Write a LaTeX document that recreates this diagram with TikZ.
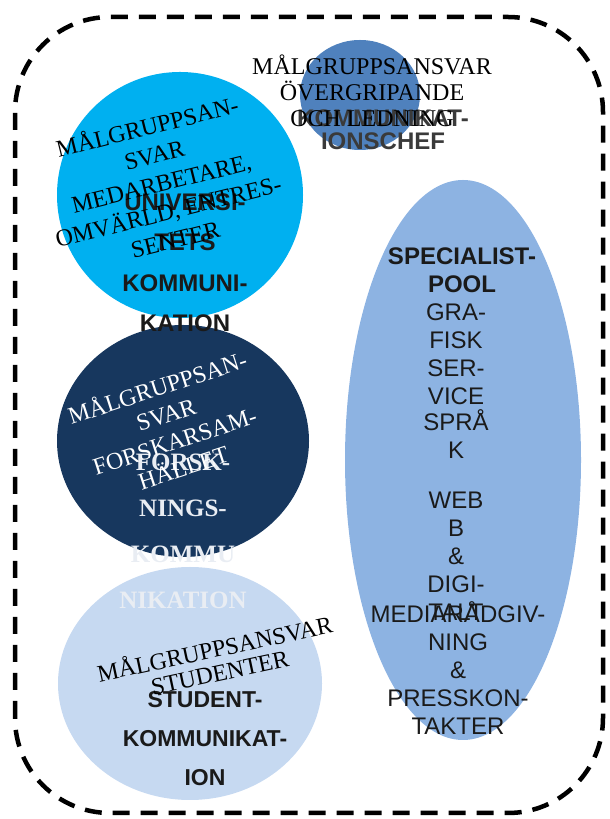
\documentclass[tikz,border=0pt]{standalone}
\usepackage{fontspec}
\setmainfont{Liberation Serif}
\newfontfamily\sansf{Liberation Sans}
\usetikzlibrary{shapes.geometric}
\definecolor{chefblue}{HTML}{4F81BD}
\definecolor{univcyan}{HTML}{00B0F0}
\definecolor{navy}{HTML}{17375E}
\definecolor{studblue}{HTML}{C6D9F1}
\definecolor{specblue}{HTML}{8DB3E2}
\definecolor{darktext}{HTML}{1A1A1A}
\definecolor{chefsub}{HTML}{3A3A3A}
\definecolor{lighttext}{HTML}{E9EDF3}
\begin{document}
\begin{tikzpicture}[x=1pt,y=1pt,
  blob/.style={draw=none, ellipse, inner sep=0pt},
  tag/.style={font=\fontsize{24}{28}\selectfont, align=center, inner sep=0pt},
  head/.style={font=\sansf\bfseries\fontsize{24}{40.5}\selectfont, align=center, inner sep=0pt, text=darktext},
  spec/.style={font=\sansf\fontsize{24}{28}\selectfont, align=center, inner sep=0pt, text=darktext},
  border/.style={line width=4.5pt, dash pattern=on 17pt off 11pt, rounded corners=95pt}
  ]
\useasboundingbox (0,0) rectangle (610,819);
% frame
\draw[border] (15,6) rectangle (603,802);
% shapes
\node[blob, fill=univcyan, minimum width=246pt, minimum height=246pt] (univ) at (180,624) {};
\node[blob, fill=navy, minimum width=252pt, minimum height=232pt] (forsk) at (183,378) {};
\node[blob, fill=studblue, minimum width=264pt, minimum height=233pt] (stud) at (190,135.5) {};
\node[blob, fill=chefblue, minimum width=120pt, minimum height=110pt] (chef) at (360,724) {};
\node[blob, fill=specblue, minimum width=236pt, minimum height=560pt] (pool) at (463,359) {};
% chef texts
\node[head, text=chefsub, font=\sansf\bfseries\fontsize{24}{23}\selectfont] (cheflbl) at (383,689.5) {KOMMUNIKAT-\\IONSCHEF};
\node[tag, font=\fontsize{24}{26}\selectfont] (chettag) at (372,728) {MÅLGRUPPSANSVAR\\ÖVERGRIPANDE\\OCH LEDNING};
% university
\node[head] (univlbl) at (185,556.5) {UNIVERSI-\\TETS\\KOMMUNI-\\KATION};
\node[tag, rotate=14, font=\fontsize{24}{29}\selectfont] (univtag) at (161,637) {MÅLGRUPPSAN-\\SVAR\\MEDARBETARE,\\OMVÄRLD, ENTRES-\\SENTER};
% research
\node[tag, text=lighttext, font=\bfseries\fontsize{25}{46}\selectfont] (forsklbl) at (183,288) {FORSK-\\NINGS-\\KOMMU\\NIKATION};
\node[tag, text=white, rotate=18] (forsktag) at (170,392.5) {MÅLGRUPPSAN-\\SVAR\\FORSKARSAM-\\HÄLLET};
% students
\node[head, font=\sansf\bfseries\fontsize{23}{39}\selectfont] (studlbl) at (205,80) {STUDENT-\\KOMMUNIKAT-\\ION};
\node[tag, rotate=12, font=\fontsize{24}{24}\selectfont] (studtag) at (217,159.5) {MÅLGRUPPSANSVAR\\STUDENTER};
% specialist pool
\node[head, font=\sansf\bfseries\fontsize{24}{28}\selectfont] (poollbl) at (462,549) {SPECIALIST-\\POOL};
\node[spec] (grafisk) at (456,464.5) {GRA-\\FISK\\SER-\\VICE};
\node[spec] (sprak) at (456,385) {SPRÅ\\K};
\node[spec] (webb) at (456,263) {WEB\\B\\\&\\DIGI-\\TALT};
\node[spec] (media) at (458,151) {MEDIARÅDGIV-\\NING\\\&\\PRESSKON-\\TAKTER};
\end{tikzpicture}
\end{document}
